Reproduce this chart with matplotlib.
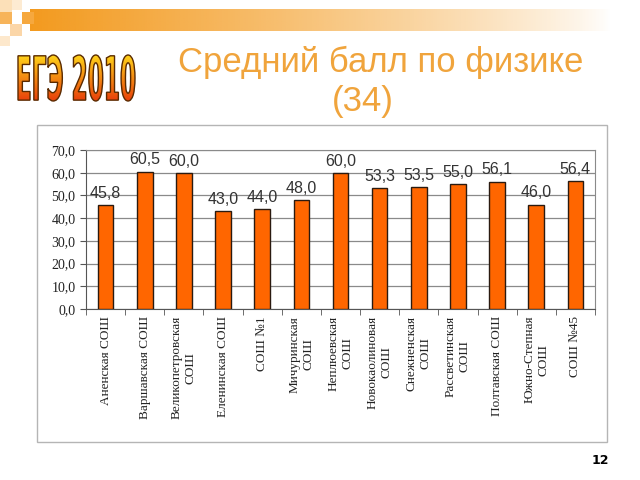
import matplotlib
matplotlib.use("Agg")
import matplotlib.pyplot as plt
import numpy as np
from matplotlib.textpath import TextPath
from matplotlib.patches import PathPatch, Rectangle
from matplotlib.font_manager import FontProperties
from matplotlib.transforms import Affine2D
from matplotlib.colors import to_rgb

# данные
schools = ["Аненская СОШ", "Варшавская СОШ", "Великопетровская\nСОШ",
           "Еленинская СОШ", "СОШ №1", "Мичуринская\nСОШ", "Неплюевская\nСОШ",
           "Новокаолиновая\nСОШ", "Снежненская\nСОШ", "Рассветинская\nСОШ",
           "Полтавская СОШ", "Южно-Степная\nСОШ", "СОШ №45"]
scores = [45.8, 60.5, 60.0, 43.0, 44.0, 48.0, 60.0, 53.3, 53.5, 55.0, 56.1, 46.0, 56.4]
yticks = [0, 10, 20, 30, 40, 50, 60, 70]

fig = plt.figure(figsize=(6.4, 4.8), dpi=100)

# фон слайда в пиксельных координатах
deco = fig.add_axes([0, 0, 1, 1], zorder=0)
deco.set_xlim(0, 640)
deco.set_ylim(480, 0)
deco.axis("off")

# полоса сверху
org = np.array(to_rgb("#F39A1E"))
n = 400
grad = np.ones((1, n, 4))
grad[0, :, :3] = org
grad[0, :, 3] = np.clip(np.linspace(1.0, -0.05, n), 0, 1) ** 0.8
deco.imshow(grad, extent=(30, 640, 31, 9), aspect="auto", zorder=1)
for (x, y, s, c) in [(0, 0, 12, "#FCE0B8"), (12, 0, 10, "#FDEBD2"), (0, 12, 12, "#F7B45A"),
                     (22, 12, 12, "#F6A83E"), (10, 24, 12, "#FBD6A8"), (0, 36, 10, "#FDE8CC")]:
    deco.add_patch(Rectangle((x, y), s, s, color=c, lw=0, zorder=2))

# ЕГЭ 2010
tp = TextPath((0, 0), "ЕГЭ 2010", size=1, prop=FontProperties(family="DejaVu Sans", weight="bold"))
ext = tp.get_extents()
tr = Affine2D().translate(-ext.x0, -ext.y0).scale(117 / ext.width, -46 / ext.height).translate(18, 101)
path = tr.transform_path(tp)
g = np.zeros((50, 1, 3))
top = np.array(to_rgb("#FFD21A"))
bot = np.array(to_rgb("#E8400A"))
for i in range(50):
    t = i / 49
    g[i, 0] = top * (1 - t) + bot * t
im = deco.imshow(g, extent=(18, 135, 101, 55), aspect="auto", zorder=3)
patch = PathPatch(path, facecolor="none", edgecolor="#5A2A00", lw=1.0, zorder=4)
deco.add_patch(patch)
im.set_clip_path(patch)

deco.set_xlim(0, 640)
deco.set_ylim(480, 0)

# заголовок
title_color = "#F0A43C"
deco.text(381, 62, "Средний балл по физике", ha="center", va="center",
          fontsize=25, color=title_color, family="Liberation Sans")
deco.text(363, 101, "(34)", ha="center", va="center",
          fontsize=25, color=title_color, family="Liberation Sans")

# рамка диаграммы
deco.add_patch(Rectangle((37, 125), 570, 317, fill=False, edgecolor="#B5B5B5", lw=1.0, zorder=2))

deco.text(600, 460, "12", ha="center", va="center", fontsize=9, weight="bold", color="black")

# диаграмма
ax = fig.add_axes([86 / 640, 1 - 309 / 480, (595 - 86) / 640, (309 - 150) / 480], zorder=5)
x = np.arange(len(schools))
bars = ax.bar(x, scores, width=0.4, color="#FF6600", edgecolor="#2A1A10", lw=1.0, zorder=3)
for xi, v in zip(x, scores):
    ax.annotate(f"{v:.1f}".replace(".", ","), (xi, v), xytext=(0, 3), textcoords="offset points",
                ha="center", va="bottom", fontsize=11.5, color="#333333", family="Liberation Sans")

ax.set_xlim(-0.5, len(schools) - 0.5)
ax.set_ylim(0, 70)
ax.set_yticks(yticks)
ax.set_yticklabels([f"{t:.1f}".replace(".", ",") for t in yticks], family="Liberation Serif",
                   fontsize=10, color="#222222")
ax.yaxis.grid(True, color="#8A8A8A", lw=0.9, zorder=0)
ax.tick_params(axis="y", length=4, color="#555555")

ax.set_xticks(x)
ax.set_xticklabels(schools, rotation=90, va="top", ha="center", multialignment="center",
                   family="Liberation Serif", fontsize=9.5, color="#222222")
ax.set_xticks(np.arange(-0.5, len(schools)), minor=True)
ax.tick_params(axis="x", which="major", length=0, pad=5)
ax.tick_params(axis="x", which="minor", length=4, color="#555555")

for s in ["left", "bottom"]:
    ax.spines[s].set_color("#555555")
ax.spines["top"].set_color("#8A8A8A")
ax.spines["right"].set_color("#8A8A8A")
ax.set_facecolor("none")

fig.savefig("out.png", dpi=100)
